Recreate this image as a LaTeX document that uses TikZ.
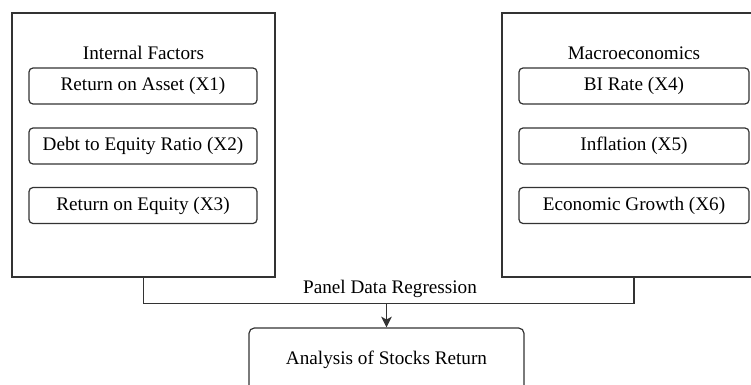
\documentclass[tikz,border=0pt]{standalone}
\usepackage{fontspec}
\setmainfont{Liberation Serif}
\usetikzlibrary{arrows.meta,positioning}

\newcommand{\pxl}{0.75pt}

\begin{document}
\begin{tikzpicture}
  [
   x=\pxl,y=-\pxl,
   font=\fontsize{14.4}{17}\selectfont,
   line width=0.9pt,
   outer/.style={rectangle,draw=black!80,inner sep=0pt,minimum width=263*\pxl,minimum height=264*\pxl},
   item/.style={rectangle,rounded corners=3pt,draw=black!80,inner sep=0pt,minimum width=228*\pxl,minimum height=36*\pxl},
   res/.style={rectangle,rounded corners=4pt,draw=black!80,inner sep=0pt,minimum width=275*\pxl,minimum height=64*\pxl},
   lnk/.style={draw=black!80}
  ]
   \clip (0,0) rectangle (751,385);

   % left group
   \node[outer] (inf) at (143.5,145) {};
   \node (inft) at (143.5,53) {Internal Factors};
   \node[item] (x1) at (143,86) {Return on Asset (X1)};
   \node[item] (x2) at (143,146) {Debt to Equity Ratio (X2)};
   \node[item] (x3) at (143,205.5) {Return on Equity (X3)};

   % right group
   \node[outer,minimum width=264*\pxl] (mac) at (634,145) {};
   \node (mact) at (634,53) {Macroeconomics};
   \node[item,minimum width=230*\pxl] (x4) at (634,86) {BI Rate (X4)};
   \node[item,minimum width=230*\pxl] (x5) at (634,146) {Inflation (X5)};
   \node[item,minimum width=230*\pxl] (x6) at (634,205.5) {Economic Growth (X6)};

   % result
   \node[res] (ret) at (386.5,360) {Analysis of Stocks Return};

   \coordinate (jn) at (386.5,303);
   \node (pdr) at (390,289) {Panel Data Regression};

   \draw[lnk] (inf.south) -- ++(0,26) -| (mac.south);
   \draw[lnk,-{Stealth[length=8pt,width=8pt,inset=2pt]}] (jn) -- (ret.north);

\end{tikzpicture}
\end{document}
